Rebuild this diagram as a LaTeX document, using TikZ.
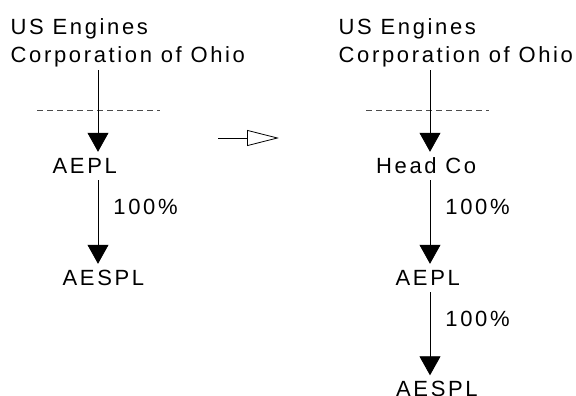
\documentclass[tikz,border=0pt]{standalone}
\usepackage{fontspec}
\setmainfont{Liberation Sans}[LetterSpace=12]
\usepackage{tikz}
\usetikzlibrary{arrows.meta}

\begin{document}
\begin{tikzpicture}[
      x=1pt, y=-1pt,
      ent/.style={anchor=base west, inner sep=0pt, text height=16pt, text depth=5pt, align=left},
      wire/.style={line width=0.8pt, -{Triangle[length=19pt,width=21pt]}, shorten >=5pt, shorten <=2pt},
      cut/.style={line width=0.6pt, dash pattern=on 6pt off 4pt, black!70},
      move/.style={line width=0.8pt, -{Triangle[open,length=32pt,width=16pt]}},
      pct/.style={pos=0.4, anchor=base west, inner sep=0pt, xshift=15pt},
      every node/.style={font=\fontsize{22}{28}\selectfont}
    ]
      \useasboundingbox (0,0) rectangle (576,396);
      \coordinate (col1) at (98,0);
      \coordinate (col2) at (430,0);

      % before
      \node[ent] (usco1) at (10.5,63) {US Engines\\Corporation of Ohio};
      \node[ent] (aepl1) at (52.5,173) {AEPL};
      \node[ent] (aespl1) at (62.5,285) {AESPL};

      \draw[cut] (37,110) -- (160,110);
      \draw[wire] (usco1.south -| col1) -- (aepl1.north -| col1);
      \draw[wire] (aepl1.south -| col1) -- node[pct] {100\%} (aespl1.north -| col1);

      % change
      \coordinate (m1) at (218,138);
      \coordinate (m2) at (279,138);
      \draw[move] (m1) -- (m2);

      % after
      \node[ent] (usco2) at (338.5,63) {US Engines\\Corporation of Ohio};
      \node[ent] (headco) at (376,173) {Head Co};
      \node[ent] (aepl2) at (395.5,285) {AEPL};
      \node[ent] (aespl2) at (396,396.5) {AESPL};

      \draw[cut] (366,110) -- (489,110);
      \draw[wire] (usco2.south -| col2) -- (headco.north -| col2);
      \draw[wire] (headco.south -| col2) -- node[pct] {100\%} (aepl2.north -| col2);
      \draw[wire] (aepl2.south -| col2) -- node[pct] {100\%} (aespl2.north -| col2);
    \end{tikzpicture}
\end{document}
